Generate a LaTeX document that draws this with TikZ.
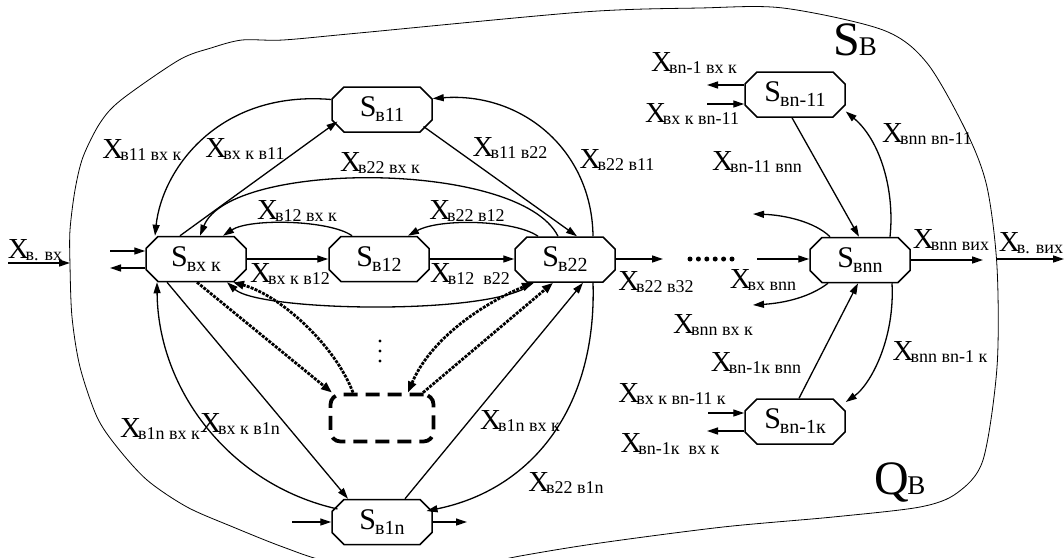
\documentclass[tikz,border=0pt]{standalone}
\usepackage{fontspec}
\setmainfont{Liberation Serif}
\usetikzlibrary{arrows.meta,shapes.misc,calc}
\newcommand\Xl[1]{X\kern-3pt\raisebox{-2pt}{\fontsize{18pt}{18pt}\selectfont #1}}
\newcommand\Sn[1]{S\kern-1pt\raisebox{-5pt}{\fontsize{20pt}{20pt}\selectfont #1}}
\tikzset{
 sbox/.style={draw, line width=1.5pt, chamfered rectangle, chamfered rectangle xsep=6pt, chamfered rectangle ysep=6pt, minimum width=100pt, minimum height=45pt, inner sep=0pt, font=\fontsize{30pt}{30pt}\selectfont},
 dbox/.style={draw, line width=3.8pt, dash pattern=on 14pt off 8pt, rounded corners=10pt, minimum width=103pt, minimum height=47pt, inner sep=0pt},
 lbl/.style={font=\fontsize{29pt}{29pt}\selectfont, inner sep=0pt},
 big/.style={font=\fontsize{48pt}{48pt}\selectfont, inner sep=0pt},
 arr/.style={line width=1.3pt, -{Triangle[length=11pt,width=7pt]}},
 dots/.style={line width=2.8pt, dash pattern=on 3pt off 1.2pt},
 dtip/.style={-{Triangle[length=11pt,width=8pt]}},
 dboth/.style={{Triangle[length=11pt,width=8pt]}-{Triangle[length=11pt,width=8pt]}},
 boundary/.style={line width=0.8pt},
}
\begin{document}
\begin{tikzpicture}[x=1pt,y=-1pt]
\useasboundingbox (0,0) rectangle (1064,557);
% boundary Q_B
\draw[boundary] plot[smooth cycle, tension=0.5] coordinates {
(70,265) (72,317) (80,367) (97,417) (117,447) (147,480) (187,507) (233,527) (283,547) (330,562) (420,575) (520,556) (600,543) (723,527) (833,517) (920,507) (957,493) (983,460) (997,367) (997,267) (987,187) (967,133) (927,63) (883,30) (783,8) (700,8) (583,12) (359,33) (283,40) (242,40) (211,48) (179,60) (121,100) (100,123) (83,157) (75,190) (70,230)};
\node[big] (SB) at (855,40) {S\kern-1pt{\fontsize{27pt}{27pt}\selectfont B}};
\node[big] (QB) at (900,482) {Q\kern-2pt{\fontsize{27pt}{27pt}\selectfont B}};

% nodes
\node[sbox] (sin) at (196,259) {\Sn{вх к}};
\node[sbox] (s11) at (382,109.5) {\Sn{в11}};
\node[sbox] (s12) at (379,259) {\Sn{в12}};
\node[sbox] (s22) at (565,259.5) {\Sn{в22}};
\node[sbox] (s1n) at (382,522) {\Sn{в1n}};
\node[dbox] (db) at (382,418) {};
\node[sbox] (sn11) at (795,94.5) {\Sn{вn-11}};
\node[sbox] (snn) at (860,260) {\Sn{вnn}};
\node[sbox] (sn1k) at (795,421.5) {\Sn{вn-1к}};

% free ends
\coordinate (xin) at (8,263);
\coordinate (qin) at (70,263);
\coordinate (sinI) at (110,251);
\coordinate (sinO) at (110,268);
\coordinate (d1) at (663,259);
\coordinate (d2) at (757,259);
\coordinate (xo1) at (983,260);
\coordinate (qout) at (997,259);
\coordinate (xout) at (1064,259);
\coordinate (s1nI) at (292,522);
\coordinate (s1nO) at (467,522);
\coordinate (n11O) at (707,85);
\coordinate (n11I) at (707,104);
\coordinate (nkI) at (708,413);
\coordinate (nkO) at (707,431);
\coordinate (stubA) at (753,214);
\coordinate (stubB) at (753,305);

% inputs / outputs
\draw[arr] (xin) -- (qin);
\draw[arr] (sinI) -- (sinI -| sin.west);
\draw[arr] (sinO -| sin.west) -- (sinO);
\draw[arr] (s1nI) -- (s1n.west);
\draw[arr] (s1n.east) -- (s1nO);
\draw[arr] (n11O -| sn11.west) -- (n11O);
\draw[arr] (n11I) -- (n11I -| sn11.west);
\draw[arr] (nkI) -- (nkI -| sn1k.west);
\draw[arr] (nkO -| sn1k.west) -- (nkO);
\draw[arr] (snn.east) -- (xo1);
\draw[arr] (qout) -- (xout);

% horizontal chain
\draw[arr] (sin.east) -- (s12.west);
\draw[arr] (s12.east) -- (s22.west |- s12.east);
\draw[arr] (s22.east |- s12.east) -- (d1);
\draw[arr] (d2) -- (d2 -| snn.west);
\foreach \i in {0,...,5} \fill (690+8.4*\i,259) circle (2.5pt);

% top part
\draw[arr] ([xshift=-16pt]sin.north) -- ([yshift=5pt]s11.south west);
\draw[arr] ([yshift=10pt]s11.west) .. controls (218,90) and (162,170) .. ([xshift=-41pt]sin.north);
\draw[arr] ([xshift=-3pt]s11.south east) -- ([xshift=12pt]s22.north);
\draw[arr] ([xshift=28pt]s22.north) .. controls (592,150) and (522,92) .. ([yshift=11pt]s11.east);
\draw[arr] ([xshift=-7pt]s22.north) .. controls (520,160) and (230,160) .. ([xshift=4pt]sin.north);
\draw[arr] ([xshift=-27pt]s12.north) .. controls (330,220) and (250,218) .. ([xshift=27pt]sin.north);
\draw[arr] ([xshift=-27pt]s22.north) .. controls (515,220) and (440,218) .. ([xshift=29pt]s12.north);

% lower part
\draw[arr] ([xshift=-32pt]s22.south) .. controls (500,316) and (260,312) .. ([xshift=31pt]sin.south);
\draw[dots,dtip] ([xshift=1pt]sin.south) -- ([xshift=-50pt]db.north);
\draw[dots,dtip] ([xshift=-29pt]db.north) .. controls (335,345) and (280,295) .. ([xshift=37pt]sin.south);
\draw[dots,dtip] ([xshift=41pt]db.north) -- ([xshift=-12pt]s22.south);
\draw[dots,dboth] ([xshift=26pt]db.north) .. controls (430,340) and (480,305) .. ([xshift=-32pt]s22.south);
\foreach \y in {341,351,361} \fill (380,\y) circle (1.6pt);

\draw[arr] ([xshift=-29pt]sin.south) -- ([xshift=-34pt]s1n.north);
\draw[arr] ([yshift=-4pt]s1n.north west) .. controls (230,485) and (158,390) .. ([xshift=-39pt]sin.south);
\draw[arr] ([xshift=23pt]s1n.north) -- ([xshift=18pt]s22.south);
\draw[arr] ([xshift=28pt]s22.south) .. controls (597,410) and (530,490) .. ([yshift=-6pt]s1n.north east);

% right part
\draw[arr] ([xshift=-3pt]sn11.south) -- ([xshift=-1pt]snn.north);
\draw[arr] ([xshift=30pt]snn.north) .. controls (895,190) and (880,140) .. ([yshift=-17pt]sn11.east);
\draw[arr] ([xshift=-30pt]snn.north) .. controls (815,222) and (785,215) .. (stubA);
\draw[arr] ([xshift=-32pt]snn.south) .. controls (810,297) and (785,303) .. (stubB);
\draw[arr] ([xshift=4pt]sn1k.north) -- ([xshift=-2pt]snn.south);
\draw[arr] ([xshift=32pt]snn.south) .. controls (895,340) and (870,385) .. ([yshift=19.5pt]sn1k.east);

% labels
\node[lbl] (l1) at (35,250) {\Xl{в. вх}};
\node[lbl] (l2) at (1031,243) {\Xl{в. вих}};
\node[lbl] (l3) at (142,150) {\Xl{в11 вх к}};
\node[lbl] (l4) at (245,149) {\Xl{вх к в11}};
\node[lbl] (l5) at (510,148) {\Xl{в11 в22}};
\node[lbl] (l6) at (380,163) {\Xl{в22 вх к}};
\node[lbl] (l7) at (617,160) {\Xl{в22 в11}};
\node[lbl] (l8) at (297,211) {\Xl{в12 вх к}};
\node[lbl] (l9) at (467,211) {\Xl{в22 в12}};
\node[lbl] (l10) at (290,274) {\Xl{вх к в12}};
\node[lbl] (l11) at (470,274) {\Xl{в12 \ в22}};
\node[lbl] (l12) at (656,282) {\Xl{в22 в32}};
\node[lbl] (l13) at (763,280) {\Xl{вх вnn}};
\node[lbl] (l14) at (951,240) {\Xl{вnn вих}};
\node[lbl] (l15) at (694,63) {\Xl{вn-1 вх к}};
\node[lbl] (l16) at (692,114) {\Xl{вх к вn-11}};
\node[lbl] (l17) at (757,162) {\Xl{вn-11 вnn}};
\node[lbl] (l18) at (927,134) {\Xl{вnn вn-11}};
\node[lbl] (l19) at (713,325) {\Xl{вnn вх к}};
\node[lbl] (l20) at (756,363) {\Xl{вn-1к вnn}};
\node[lbl] (l21) at (940,352) {\Xl{вnn вn-1 к}};
\node[lbl] (l22) at (672,394) {\Xl{вх к вn-11 к}};
\node[lbl] (l23) at (670,444) {\Xl{вn-1к \ вх к}};
\node[lbl] (l24) at (240,424) {\Xl{вх к в1n}};
\node[lbl] (l25) at (160,429) {\Xl{в1n вх к}};
\node[lbl] (l26) at (520,421) {\Xl{в1n вх к}};
\node[lbl] (l27) at (566,483) {\Xl{в22 в1n}};
\end{tikzpicture}
\end{document}
